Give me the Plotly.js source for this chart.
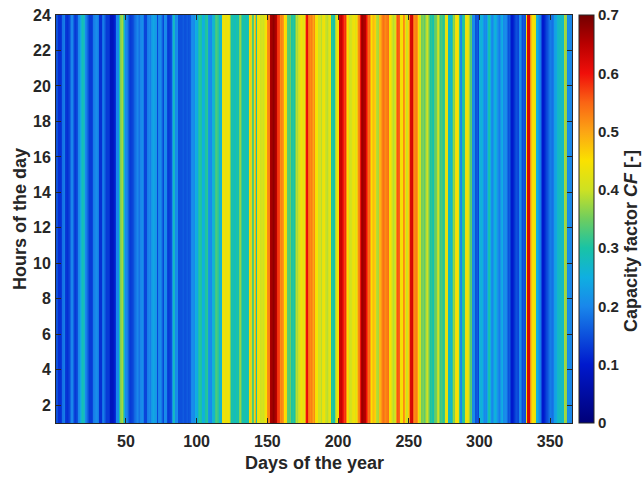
<!DOCTYPE html>
<html>
<head>
<meta charset="utf-8">
<script src="https://cdn.plot.ly/plotly-3.0.1.min.js"></script>
<style>html,body{margin:0;padding:0;background:#fff;}#chart{width:642px;height:478px;}</style>
</head>
<body>
<div id="chart"></div>
<script>
// Days of the year (1..365)
const days = [];
for (let d = 1; d <= 365; d++) days.push(d);

// Hours of the day (1..24)
const hours = [];
for (let h = 1; h <= 24; h++) hours.push(h);

// Daily capacity factor (one value per day)
const dailyCF = [
0.15,0.12,0.12,0.13,0.18,0.19,0.13,0.12,0.13,0.14,
0.20,0.20,0.14,0.13,0.15,0.20,0.21,0.27,0.29,0.27,
0.20,0.19,0.15,0.13,0.13,0.14,0.19,0.20,0.21,0.19,
0.12,0.12,0.18,0.19,0.15,0.13,0.13,0.12,0.08,0.08,
0.09,0.12,0.20,0.20,0.30,0.36,0.38,0.33,0.20,0.20,
0.19,0.14,0.13,0.14,0.15,0.17,0.19,0.20,0.18,0.20,
0.21,0.19,0.14,0.14,0.19,0.20,0.19,0.22,0.24,0.23,
0.22,0.14,0.20,0.21,0.19,0.14,0.21,0.20,0.14,0.13,
0.14,0.15,0.28,0.27,0.20,0.21,0.15,0.15,0.15,0.16,
0.15,0.15,0.16,0.15,0.16,0.20,0.21,0.20,0.25,0.24,
0.29,0.31,0.30,0.25,0.26,0.30,0.31,0.22,0.21,0.20,
0.26,0.27,0.32,0.33,0.31,0.27,0.26,0.43,0.44,0.43,
0.43,0.44,0.42,0.29,0.30,0.29,0.28,0.30,0.29,0.36,
0.37,0.29,0.30,0.29,0.28,0.30,0.46,0.47,0.33,0.34,
0.50,0.30,0.43,0.44,0.40,0.41,0.40,0.44,0.45,0.52,
0.53,0.66,0.67,0.68,0.67,0.65,0.58,0.57,0.52,0.53,
0.51,0.45,0.46,0.34,0.33,0.35,0.30,0.31,0.30,0.39,
0.38,0.40,0.43,0.44,0.42,0.43,0.60,0.61,0.54,0.52,
0.53,0.50,0.52,0.44,0.45,0.40,0.41,0.39,0.43,0.44,
0.40,0.39,0.41,0.44,0.30,0.31,0.29,0.38,0.44,0.45,
0.63,0.64,0.62,0.57,0.58,0.45,0.46,0.40,0.41,0.43,
0.44,0.42,0.43,0.52,0.53,0.66,0.67,0.66,0.65,0.60,
0.54,0.55,0.45,0.47,0.48,0.46,0.39,0.38,0.48,0.49,
0.53,0.54,0.52,0.53,0.54,0.44,0.45,0.40,0.39,0.41,
0.52,0.56,0.55,0.44,0.45,0.52,0.51,0.40,0.41,0.52,
0.62,0.63,0.55,0.52,0.53,0.51,0.40,0.41,0.35,0.36,
0.34,0.39,0.40,0.34,0.30,0.31,0.29,0.34,0.35,0.39,
0.40,0.32,0.33,0.31,0.32,0.43,0.44,0.27,0.28,0.26,
0.37,0.36,0.44,0.45,0.43,0.21,0.20,0.30,0.31,0.43,
0.44,0.42,0.33,0.34,0.20,0.21,0.15,0.16,0.14,0.25,
0.26,0.25,0.20,0.21,0.20,0.29,0.30,0.21,0.20,0.25,
0.26,0.24,0.20,0.19,0.24,0.25,0.20,0.21,0.20,0.15,
0.16,0.10,0.10,0.11,0.14,0.15,0.14,0.20,0.21,0.15,
0.16,0.15,0.44,0.62,0.63,0.52,0.44,0.45,0.43,0.26,
0.25,0.20,0.19,0.10,0.10,0.11,0.14,0.15,0.18,0.19,
0.18,0.19,0.23,0.24,0.27,0.28,0.27,0.28,0.27,0.38,
0.37,0.20,0.21,0.20,0.20
];

// Tick labels
const xTicks = [50, 100, 150, 200, 250, 300, 350];
const yTicks = [2, 4, 6, 8, 10, 12, 14, 16, 18, 20, 22, 24];
const cbTicks = [0, 0.1, 0.2, 0.3, 0.4, 0.5, 0.6, 0.7];

// z matrix: rows = hours, columns = days
const z = hours.map(() => dailyCF.slice());

const jet = [
  [0.000, 'rgb(0,0,120)'],
  [0.143, 'rgb(0,25,205)'],
  [0.286, 'rgb(25,135,235)'],
  [0.357, 'rgb(15,175,225)'],
  [0.429, 'rgb(25,195,165)'],
  [0.500, 'rgb(110,205,95)'],
  [0.571, 'rgb(205,225,35)'],
  [0.643, 'rgb(250,225,0)'],
  [0.714, 'rgb(252,165,20)'],
  [0.786, 'rgb(250,100,20)'],
  [0.857, 'rgb(240,15,10)'],
  [0.929, 'rgb(185,0,0)'],
  [1.000, 'rgb(115,0,0)']
];

const FONT = 'Liberation Sans, Arial, sans-serif';
const INK = '#262626';

const trace = {
  type: 'heatmap',
  x: days,
  y: hours,
  z: z,
  zmin: 0,
  zmax: 0.7,
  zsmooth: 'best',
  colorscale: jet,
  colorbar: {
    x: 1.0136, xanchor: 'left', xref: 'paper',
    y: 0.5, yanchor: 'middle', len: 1.0, lenmode: 'fraction',
    thickness: 15, thicknessmode: 'pixels',
    xpad: 0, ypad: 0,
    outlinecolor: INK, outlinewidth: 1,
    tickvals: cbTicks, ticktext: cbTicks.map(String),
    ticks: '', ticklabelposition: 'outside',
    tickfont: {family: FONT, size: 15, color: INK, weight: 'bold'}
  },
  hoverinfo: 'skip'
};

const axisCommon = {
  showline: true, linecolor: INK, linewidth: 1,
  mirror: 'ticks', ticks: 'inside', ticklen: 5, tickcolor: INK,
  showgrid: false, zeroline: false,
  tickfont: {family: FONT, size: 16, color: INK, weight: 'bold'}
};

const titleFont = {family: FONT, size: 18, color: INK, weight: 'bold'};

const layout = {
  width: 642, height: 478,
  margin: {l: 56, r: 70, t: 15, b: 55, pad: 0},
  paper_bgcolor: '#fff', plot_bgcolor: '#fff',
  xaxis: Object.assign({}, axisCommon, {
    range: [0.5, 365.5], tickvals: xTicks, ticktext: xTicks.map(String),
    ticklabelstandoff: 4
  }),
  yaxis: Object.assign({}, axisCommon, {
    range: [1, 24], tickvals: yTicks, ticktext: yTicks.map(String),
    ticklabelstandoff: 1
  }),
  annotations: [
    {
      text: 'Days of the year',
      xref: 'paper', yref: 'paper', x: 0.5, y: -0.098,
      xanchor: 'center', yanchor: 'middle', showarrow: false,
      font: titleFont
    },
    {
      text: 'Hours of the day',
      xref: 'paper', yref: 'paper', x: -0.0698, y: 0.5,
      xanchor: 'center', yanchor: 'middle', textangle: -90, showarrow: false,
      font: titleFont
    },
    {
      text: 'Capacity factor <i>CF</i> [-]',
      xref: 'paper', yref: 'paper', x: 1.1155, y: 0.445,
      xanchor: 'center', yanchor: 'middle', textangle: -90, showarrow: false,
      font: {family: FONT, size: 18, color: INK, weight: 'bold'}
    }
  ]
};

Plotly.newPlot('chart', [trace], layout, {displayModeBar: false, staticPlot: true});
</script>
</body>
</html>
